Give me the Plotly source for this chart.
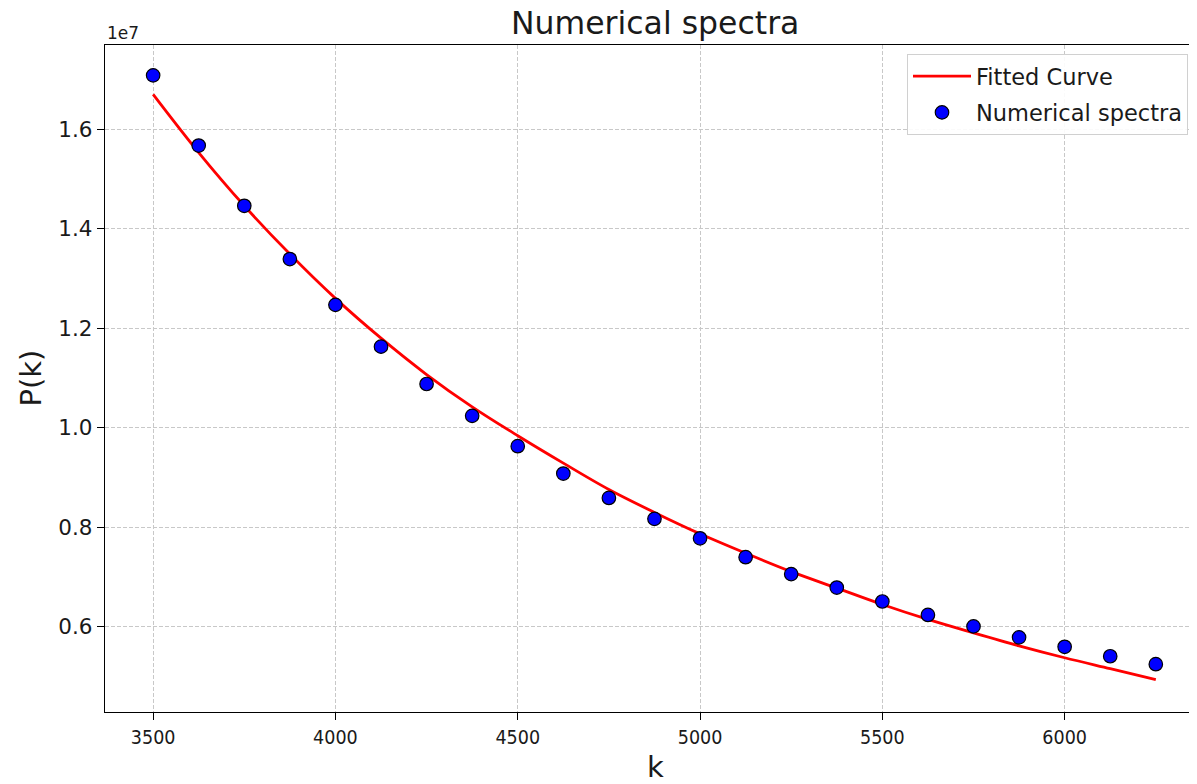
import plotly.graph_objects as go

# wavenumbers
k_vals = [3500, 3625, 3750, 3875, 4000, 4125, 4250, 4375, 4500, 4625, 4750, 4875,
          5000, 5125, 5250, 5375, 5500, 5625, 5750, 5875, 6000, 6125, 6250]

# numerical spectra (units of 1e7)
spectra_1e7 = [1.708, 1.567, 1.446, 1.339, 1.247, 1.163, 1.088, 1.024, 0.963, 0.908,
               0.859, 0.817, 0.778, 0.740, 0.706, 0.679, 0.651, 0.624, 0.601, 0.579,
               0.560, 0.541, 0.525]

# fitted curve (units of 1e7)
fit_1e7 = [1.670, 1.553, 1.446, 1.349, 1.260, 1.180, 1.107, 1.042, 0.984, 0.929,
           0.876, 0.830, 0.787, 0.748, 0.711, 0.678, 0.645, 0.615, 0.588, 0.562,
           0.538, 0.516, 0.494]

y_ticks_1e7 = [0.6, 0.8, 1.0, 1.2, 1.4, 1.6]
x_ticks = [3500, 4000, 4500, 5000, 5500, 6000]

SCALE = 1e7
spectra = [v * SCALE for v in spectra_1e7]
fit = [v * SCALE for v in fit_1e7]

FONT = "DejaVu Sans"

fig = go.Figure()
fig.add_trace(go.Scatter(
    x=k_vals, y=fit, mode="lines", name="Fitted Curve",
    line=dict(color="red", width=2.8, shape="spline"),
    legendgroup="a",
))
fig.add_trace(go.Scatter(
    x=k_vals, y=spectra, mode="markers", name="Numerical spectra",
    marker=dict(color="blue", size=13.5, line=dict(color="black", width=1.2)),
    legendgroup="b",
))

grid = dict(showgrid=True, gridcolor="#c8c8c8", griddash="4px,2px", gridwidth=0.7)

fig.update_layout(
    width=1189, height=776,
    margin=dict(l=97, r=0, t=37, b=72),
    paper_bgcolor="white", plot_bgcolor="white",
    font=dict(family=FONT, color="#1a1a1a"),
    showlegend=True,
    legend=dict(
        x=(1188 - 105) / 1092, y=0.9865, xanchor="right", yanchor="top",
        bgcolor="rgba(255,255,255,0.9)", bordercolor="#d0d0d0", borderwidth=1,
        font=dict(family=FONT, size=22.5, color="#1a1a1a"),
        tracegroupgap=4, itemwidth=58,
    ),
    xaxis=dict(
        range=[3368, 6363],
        tickvals=x_ticks, ticktext=[str(t) for t in x_ticks],
        ticks="outside", ticklen=7, tickwidth=1.2, tickcolor="black",
        tickfont=dict(family="DejaVu Sans Condensed", size=19.5, color="#1a1a1a"),
        showline=True, linecolor="black", linewidth=1.3, mirror=True,
        zeroline=False, **grid,
    ),
    yaxis=dict(
        range=[0.429 * SCALE, 1.769 * SCALE],
        tickvals=[v * SCALE for v in y_ticks_1e7],
        ticktext=[f"{v:.1f}" for v in y_ticks_1e7],
        ticks="outside", ticklen=7, tickwidth=1.2, tickcolor="black",
        tickfont=dict(family=FONT, size=21.5, color="#1a1a1a"),
        showline=True, linecolor="black", linewidth=1.3, mirror=False,
        zeroline=False, **grid,
    ),
    annotations=[
        dict(text="Numerical spectra", xref="paper", yref="paper",
             x=(655 - 105) / 1092, y=1 + 22 / 667, xanchor="center", yanchor="middle",
             showarrow=False, font=dict(family=FONT, size=31.5, color="#1a1a1a")),
        dict(text="1e7", xref="paper", yref="paper",
             x=0.0, y=1 + 12 / 667, xanchor="left", yanchor="middle",
             showarrow=False, font=dict(family=FONT, size=17, color="#1a1a1a")),
        dict(text="P(k)", xref="paper", yref="paper",
             x=(30 - 105) / 1092, y=0.5, xanchor="center", yanchor="middle",
             textangle=-90, showarrow=False,
             font=dict(family=FONT, size=29, color="#1a1a1a")),
        dict(text="k", xref="paper", yref="paper",
             x=(655 - 105) / 1092, y=(712 - 767) / 667, xanchor="center", yanchor="middle",
             showarrow=False, font=dict(family=FONT, size=29, color="#1a1a1a")),
    ],
)

fig.write_html("out.html")
